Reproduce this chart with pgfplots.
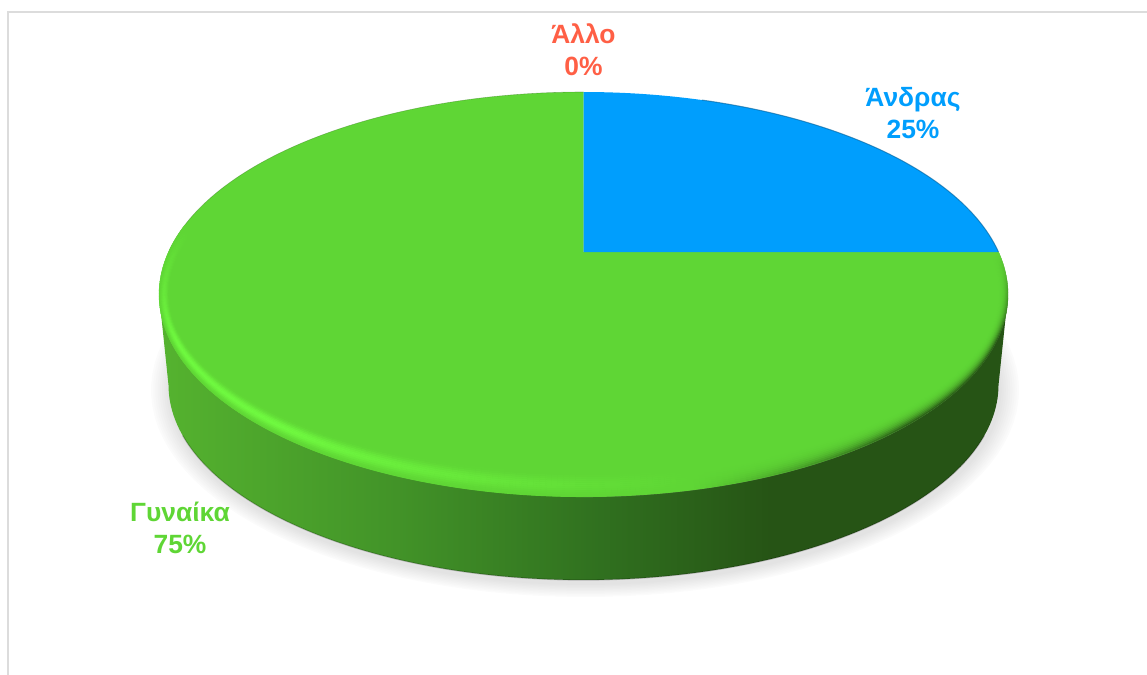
\documentclass[border=0pt]{standalone}
\usepackage{fontspec}
\setmainfont{Liberation Sans}
\usepackage{pgfplots}
\pgfplotsset{compat=1.18}

% Shares of the pie, in percent
\def\valAndras{25}
\def\valGynaika{75}
\def\valAllo{0}

\definecolor{faceGreen}{HTML}{5FD635}
\definecolor{faceBlue}{HTML}{009EFD}
\definecolor{otherRed}{HTML}{FF5F45}
\definecolor{frameGrey}{HTML}{DCDCDC}
\definecolor{sideA}{HTML}{55B32F}
\definecolor{sideB}{HTML}{429328}
\definecolor{sideC}{HTML}{30701F}
\definecolor{sideD}{HTML}{265415}

% Shading of the rim, left to right (the bounding box spans 25bp to 75bp)
\pgfdeclarehorizontalshading{rimside}{100bp}{
  color(0bp)=(sideA); color(25bp)=(sideA); color(39bp)=(sideB);
  color(51bp)=(sideC); color(61bp)=(sideD); color(100bp)=(sideD)}

\pgfplotsset{
  pagebox/.style={
    at={(0,0)}, anchor=south west,
    scale only axis, width=1147bp, height=675bp,
    xmin=0, xmax=1147, ymin=0, ymax=675, y dir=reverse,
    hide axis, clip=true}
}
\tikzset{pielabel/.style={font=\fontsize{26.5}{32.2}\selectfont\bfseries, align=center}}

\begin{document}
\begin{tikzpicture}[declare function={
    % perspective view of the pie's top: angle on the disc to picture position
    fx(\a)=583.5+415*cos(\a)/(1+0.21*sin(\a));
    fy(\a)=252-193.6*sin(\a)/(1+0.21*sin(\a));
  }]
\useasboundingbox (0,0) rectangle (1147bp,675bp);
\pgfmathsetmacro{\stopAndras}{90-3.6*\valAndras}
\pgfmathsetmacro{\stopGynaika}{\stopAndras-3.6*\valGynaika}

\begin{axis}[pagebox]
  % frame of the chart area
  \addplot[frameGrey, line width=2pt, forget plot] coordinates {(8,675) (8,12) (1147,12)};

  % soft drop shadow under the disc
  \pgfplotsinvokeforeach{0,...,8}{
    \addplot[draw=none, fill=black!\fpeval{1.5+#1*1.2}, domain=0:360, samples=120, variable=\u, forget plot]
      ({585+(434-2.2*#1)*cos(\u)}, {390+(207-1.5*#1)*sin(\u)}) -- cycle;
  }

  % rim of the disc
  \addplot[draw=none, shading=rimside, domain=0:180, samples=140, variable=\u, forget plot]
    ({583.5+415*cos(\u)}, {385+195*sin(\u)}) -- (axis cs:159,294.5) -- (axis cs:1008,294.5) -- cycle;
  \addplot[black, opacity=0.2, line width=1.3pt, domain=15:165, samples=120, variable=\u, forget plot]
    ({583.5+415*cos(\u)}, {385+195*sin(\u)});

  % top of the disc, one sector per share, clockwise from twelve o'clock
  \addplot[draw=none, fill=faceGreen, domain=\stopGynaika:\stopAndras, samples=240, variable=\u, forget plot]
    ({fx(\u)}, {fy(\u)}) -- (axis cs:583.5,252) -- cycle;
  \addplot[draw=none, fill=faceBlue, domain=\stopAndras:90, samples=100, variable=\u, forget plot]
    ({fx(\u)}, {fy(\u)}) -- (axis cs:583.5,252) -- cycle;
  \addplot[black!60, opacity=0.3, line width=0.5pt, domain=-90:0, samples=100, variable=\u, forget plot]
    ({fx(\u)}, {fy(\u)});
  \addplot[black!40!faceGreen, opacity=0.45, line width=0.6pt, domain=90:180, samples=100, variable=\u, forget plot]
    ({fx(\u)}, {fy(\u)});
  \addplot[black!40!faceBlue, line width=1pt, opacity=0.6, domain=\stopAndras:70, samples=80, variable=\u, forget plot]
    ({fx(\u)}, {fy(\u)});

  % data labels
  \node[pielabel, text=otherRed] at (axis cs:583.5,50) {Άλλο\\\valAllo\%};
  \node[pielabel, text=faceBlue] at (axis cs:913,113) {Άνδρας\\\valAndras\%};
  \node[pielabel, text=faceGreen] at (axis cs:180,528) {Γυναίκα\\\valGynaika\%};
\end{axis}

% bevel along the edge of the top: bright on the lit side, dark on the far side
\begin{axis}[pagebox, view={0}{90}, zmin=-1, zmax=1,
    point meta min=-1, point meta max=1,
    colormap={bevel}{
      color(-1)=(sideD); color(0)=(faceGreen); color(1)=(rgb,255:red,112;green,250;blue,64)}]
  \addplot3[surf, shader=flat, z buffer=none, domain=160:372, y domain=0:1, samples=260, samples y=13]
    ({583.5+(424.5-11*y)*cos(x)},
     {294.5-(202-24*y)*sin(x)},
     {max(0,min(1,(x-160)/35,(285-x)/60))*sin(180*y)*sin(180*y)
      -max(0,min(1,(x-285)/35,(372-x)/25))*(1-y)*(1-y)*(1-y)});
\end{axis}
\end{tikzpicture}
\end{document}
